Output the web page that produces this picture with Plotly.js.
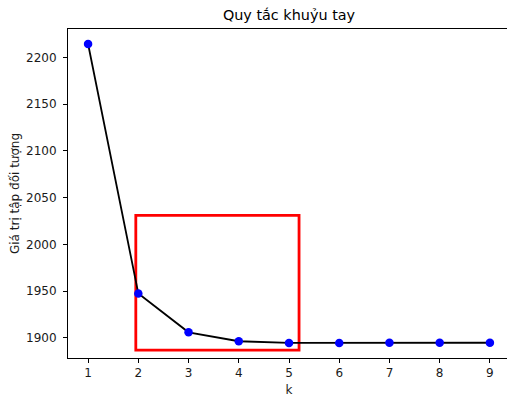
<!DOCTYPE html>
<html>
<head>
<meta charset="utf-8">
<script src="https://cdn.plot.ly/plotly-3.0.1.min.js"></script>
<style>
html, body { margin:0; padding:0; overflow:hidden; background:#fff; }
#chart { width:520px; height:398px; }
</style>
</head>
<body>
<div id="chart"></div>
<script>
const kValues = [1, 2, 3, 4, 5, 6, 7, 8, 9];
const objectiveValues = [2214.3, 1947.5, 1906.0, 1896.4, 1894.6, 1894.5, 1894.7, 1894.8, 1894.8];
const xTicks = [1, 2, 3, 4, 5, 6, 7, 8, 9];
const yTicks = [1900, 1950, 2000, 2050, 2100, 2150, 2200];
const highlightK = [1.95, 5.2];
const highlightValue = [1887, 2031];

const font = "DejaVu Sans, sans-serif";

const trace = {
  x: kValues,
  y: objectiveValues,
  type: 'scatter',
  mode: 'lines+markers',
  line: { color: '#000000', width: 1.8 },
  marker: { color: '#0000ff', size: 8.5 },
  hoverinfo: 'skip'
};

const layout = {
  width: 520,
  height: 398,
  margin: { l: 68, r: 10, t: 29, b: 40 },
  paper_bgcolor: '#ffffff',
  plot_bgcolor: '#ffffff',
  showlegend: false,
  font: { family: font, size: 12, color: '#1a1a1a' },
  title: {
    text: 'Quy tắc khuỷu tay',
    font: { family: font, size: 14.4, color: '#000000' },
    xref: 'paper', x: 0.5, xanchor: 'center',
    yref: 'container', y: 1 - 15/398, yanchor: 'middle'
  },
  xaxis: {
    range: [0.6, 9.4],
    tickvals: xTicks,
    ticktext: xTicks.map(String),
    showgrid: false, zeroline: false,
    showline: true, linecolor: '#000000', linewidth: 1, mirror: true,
    ticks: 'outside', ticklen: 4, tickwidth: 1, tickcolor: '#000000',
    tickfont: { family: font, size: 12, color: '#1a1a1a' },
    title: { text: 'k', font: { family: font, size: 12, color: '#1a1a1a' }, standoff: 6 }
  },
  yaxis: {
    range: [1878.5, 2230.3],
    tickvals: yTicks,
    ticktext: yTicks.map(String),
    showgrid: false, zeroline: false,
    showline: true, linecolor: '#000000', linewidth: 1, mirror: true,
    ticks: 'outside', ticklen: 4, tickwidth: 1, tickcolor: '#000000',
    ticklabelstandoff: 4,
    tickfont: { family: font, size: 12, color: '#1a1a1a' },
    title: { text: 'Giá trị tập đối tượng', font: { family: font, size: 12, color: '#1a1a1a' }, standoff: 3 }
  },
  shapes: [{
    type: 'rect', xref: 'x', yref: 'y',
    x0: highlightK[0], x1: highlightK[1],
    y0: highlightValue[0], y1: highlightValue[1],
    line: { color: '#ff0000', width: 2.8 },
    fillcolor: 'rgba(0,0,0,0)',
    layer: 'below'
  }]
};

Plotly.newPlot('chart', [trace], layout, { displayModeBar: false, staticPlot: true });
</script>
</body>
</html>
